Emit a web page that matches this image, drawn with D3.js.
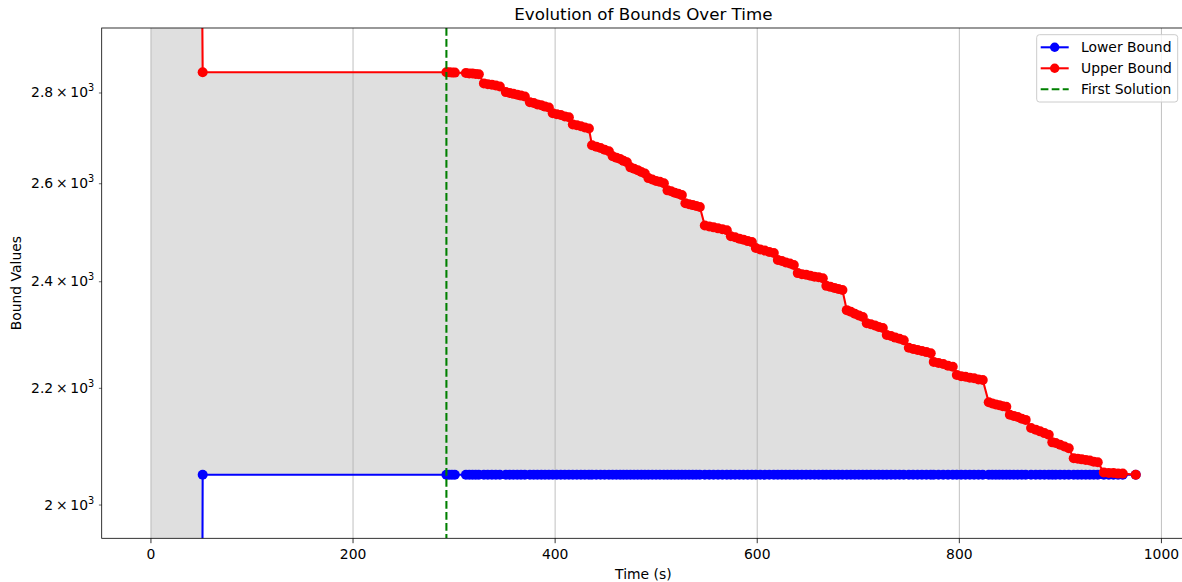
<!DOCTYPE html>
<html>
<head>
<meta charset="utf-8">
<script src="https://cdn.jsdelivr.net/npm/d3@7"></script>
<style>
  body { margin: 0; background: #fff; }
  svg { display: block; font-family: "DejaVu Sans", sans-serif; }
</style>
</head>
<body>
<div id="chart"></div>
<script>
// sample times (s)
const times = [
  0, 51.2,
  292.4, 295.1, 297.9, 300.7,
  311.7, 315.0, 318.2, 321.4, 324.5,
  329.5, 333.4, 337.4, 341.3, 345.3,
  351.2, 355.0, 358.7, 362.5, 366.2, 370.0,
  375.0, 378.8, 382.5, 386.3, 390.0, 393.8,
  397.6, 401.6, 405.6, 409.6, 413.6,
  417.5, 421.5, 425.5, 429.4, 433.4,
  436.5, 440.7, 444.9, 449.0, 453.2,
  456.9, 460.6, 464.3, 467.6, 471.0,
  474.5, 478.1, 481.7, 485.3, 488.8,
  492.3, 496.1, 499.9, 503.7, 507.6,
  511.2, 514.8, 518.4, 521.9, 525.4,
  528.9, 532.5, 536.1, 539.6, 543.2,
  548.1, 552.5, 556.8, 561.2, 565.5, 569.9,
  573.9, 578.1, 582.3, 586.4, 590.6, 594.7,
  598.6, 603.0, 607.5, 611.9, 616.4,
  620.4, 624.4, 628.3, 632.3, 636.2,
  640.1, 644.2, 648.4, 652.5, 656.7, 660.8, 664.9,
  668.4, 672.4, 676.4, 680.3, 684.3,
  688.6, 692.6, 696.6, 700.5, 704.5,
  708.4, 712.4, 716.4, 720.3, 724.3,
  728.2, 732.4, 736.6, 740.8, 745.0,
  750.0, 754.3, 758.7, 763.0, 767.4, 771.7,
  774.7, 779.4, 784.1, 788.8, 793.5,
  797.5, 801.8, 806.1, 810.4, 814.6, 818.9, 823.2,
  829.1, 832.6, 836.1, 839.5, 843.0, 846.5,
  850.0, 853.9, 857.8, 861.8, 865.7,
  871.0, 875.6, 879.9, 884.2, 888.5,
  892.0, 895.4, 899.7, 904.0, 908.3,
  913.2, 917.2, 921.1, 925.1, 929.1, 933.0, 937.0,
  943.0, 947.9, 952.5, 957.1, 961.7,
  974.6
];

// lower bound (first value is off the chart, below)
const lowerBound = [
  0, 2050,
  2050, 2050, 2050, 2050,
  2050, 2050, 2050, 2050, 2050,
  2050, 2050, 2050, 2050, 2050,
  2050, 2050, 2050, 2050, 2050, 2050,
  2050, 2050, 2050, 2050, 2050, 2050,
  2050, 2050, 2050, 2050, 2050,
  2050, 2050, 2050, 2050, 2050,
  2050, 2050, 2050, 2050, 2050,
  2050, 2050, 2050, 2050, 2050,
  2050, 2050, 2050, 2050, 2050,
  2050, 2050, 2050, 2050, 2050,
  2050, 2050, 2050, 2050, 2050,
  2050, 2050, 2050, 2050, 2050,
  2050, 2050, 2050, 2050, 2050, 2050,
  2050, 2050, 2050, 2050, 2050, 2050,
  2050, 2050, 2050, 2050, 2050,
  2050, 2050, 2050, 2050, 2050,
  2050, 2050, 2050, 2050, 2050, 2050, 2050,
  2050, 2050, 2050, 2050, 2050,
  2050, 2050, 2050, 2050, 2050,
  2050, 2050, 2050, 2050, 2050,
  2050, 2050, 2050, 2050, 2050,
  2050, 2050, 2050, 2050, 2050, 2050,
  2050, 2050, 2050, 2050, 2050,
  2050, 2050, 2050, 2050, 2050, 2050, 2050,
  2050, 2050, 2050, 2050, 2050, 2050,
  2050, 2050, 2050, 2050, 2050,
  2050, 2050, 2050, 2050, 2050,
  2050, 2050, 2050, 2050, 2050,
  2050, 2050, 2050, 2050, 2050, 2050, 2050,
  2050, 2050, 2050, 2050, 2050,
  2050
];

// upper bound (first value is off the chart, above)
const upperBound = [
  1e6, 2848,
  2848, 2848, 2847, 2847,
  2846, 2845, 2845, 2844, 2843,
  2822, 2820, 2819, 2817, 2815,
  2802, 2800, 2798, 2796, 2794, 2792,
  2779, 2777, 2774, 2772, 2769, 2767,
  2754, 2752, 2750, 2747, 2745,
  2729, 2727, 2725, 2722, 2720,
  2683, 2680, 2677, 2673, 2670,
  2659, 2656, 2653, 2649, 2646,
  2635, 2632, 2629, 2625, 2622,
  2612, 2609, 2606, 2604, 2601,
  2586, 2584, 2581, 2579, 2576,
  2559, 2557, 2555, 2553, 2551,
  2513, 2511, 2509, 2507, 2505, 2503,
  2491, 2489, 2486, 2484, 2481, 2479,
  2467, 2464, 2462, 2459, 2457,
  2443, 2441, 2438, 2436, 2433,
  2417, 2415, 2414, 2412, 2410, 2409, 2407,
  2392, 2390, 2388, 2386, 2384,
  2345, 2342, 2338, 2335, 2332,
  2320, 2318, 2316, 2313, 2311,
  2298, 2296, 2293, 2291, 2288,
  2274, 2272, 2270, 2268, 2266, 2264,
  2248, 2246, 2244, 2241, 2239,
  2224, 2222, 2221, 2219, 2218, 2216, 2215,
  2175, 2173, 2171, 2170, 2168, 2167,
  2153, 2151, 2149, 2146, 2144,
  2130, 2127, 2124, 2121, 2118,
  2105, 2104, 2101, 2098, 2095,
  2078, 2077, 2076, 2075, 2074, 2072, 2071,
  2054, 2053, 2053, 2052, 2052,
  2050
];

const firstSolutionTime = 292.4;
const xTicks = [0, 200, 400, 600, 800, 1000];
const yTicks = [2000, 2200, 2400, 2600, 2800];
const yTickMantissas = ["2", "2.2", "2.4", "2.6", "2.8"];
const yLimits = [1946.4, 2952.6];
const seriesNames = ["Lower Bound", "Upper Bound", "First Solution"];
const seriesColors = ["#0000ff", "#ff0000", "#008000"];

let width = 1182, height = 582;
let plot = {left: 101.7, top: 28, right: 1185, bottom: 538.3};

let data = times.map((t, i) => ({t: t, lo: lowerBound[i], up: upperBound[i]}));

let svg = d3.select("#chart")
  .append("svg")
    .attr("width", width)
    .attr("height", height);

// x axis with 5% margins like matplotlib
let ext = d3.extent(times);
let pad = (ext[1] - ext[0]) * 0.05;
let x = d3.scaleLinear()
  .domain([ext[0] - pad, ext[1] + pad])
  .range([plot.left, plot.right]);

let y = d3.scaleLog()
  .domain(yLimits)
  .range([plot.bottom, plot.top]);

// log scale cannot take 0, clip like matplotlib does
const yv = v => y(Math.max(v, 1e-3));

svg.append("defs").append("clipPath")
    .attr("id", "clip")
  .append("rect")
    .attr("x", plot.left)
    .attr("y", plot.top)
    .attr("width", plot.right - plot.left)
    .attr("height", plot.bottom - plot.top);

let inner = svg.append("g").attr("clip-path", "url(#clip)");

// shaded gap between the bounds
inner.append("path")
  .datum(data)
  .attr("fill", "gray")
  .attr("fill-opacity", 0.25)
  .attr("d", d3.area()
    .x(d => x(d.t))
    .y0(d => yv(d.lo))
    .y1(d => yv(d.up)));

// vertical grid
inner.selectAll(".grid")
  .data(xTicks)
  .join("line")
    .attr("class", "grid")
    .attr("x1", d => x(d)).attr("x2", d => x(d))
    .attr("y1", plot.top).attr("y2", plot.bottom)
    .attr("stroke", "#b0b0b0")
    .attr("stroke-width", 0.8);

// bound lines + markers
let series = [
  {key: "lo", color: seriesColors[0]},
  {key: "up", color: seriesColors[1]}
];
series.forEach(s => {
  inner.append("path")
    .datum(data)
    .attr("fill", "none")
    .attr("stroke", s.color)
    .attr("stroke-width", 2.08)
    .attr("stroke-linejoin", "round")
    .attr("d", d3.line()
      .x(d => x(d.t))
      .y(d => yv(d[s.key])));
  inner.append("g")
    .selectAll("circle")
    .data(data)
    .join("circle")
      .attr("cx", d => x(d.t))
      .attr("cy", d => yv(d[s.key]))
      .attr("r", 5)
      .attr("fill", s.color);
});

// first solution marker line
inner.append("line")
  .attr("x1", x(firstSolutionTime)).attr("x2", x(firstSolutionTime))
  .attr("y1", plot.top).attr("y2", plot.bottom)
  .attr("stroke", seriesColors[2])
  .attr("stroke-width", 2.08)
  .attr("stroke-dasharray", "7.7,3.3");

// frame
svg.append("rect")
  .attr("x", plot.left).attr("y", plot.top)
  .attr("width", plot.right - plot.left)
  .attr("height", plot.bottom - plot.top)
  .attr("fill", "none")
  .attr("stroke", "#000")
  .attr("stroke-width", 0.8);

// x ticks
let xt = svg.append("g").selectAll("g")
  .data(xTicks)
  .join("g")
    .attr("transform", d => "translate(" + x(d) + "," + plot.bottom + ")");
xt.append("line")
  .attr("y2", 4.9)
  .attr("stroke", "#000")
  .attr("stroke-width", 0.8);
xt.append("text")
  .attr("y", 20.3)
  .attr("text-anchor", "middle")
  .attr("font-size", "13.9px")
  .attr("fill", "#000")
  .text(d => d);

// y ticks (log minor ticks with mathtext style labels)
let yt = svg.append("g").selectAll("g")
  .data(yTicks)
  .join("g")
    .attr("transform", d => "translate(" + plot.left + "," + y(d) + ")");
yt.append("line")
  .attr("x2", -2.8)
  .attr("stroke", "#000")
  .attr("stroke-width", 0.6);
let ytText = yt.append("text")
  .attr("x", -7.5)
  .attr("y", 4.5)
  .attr("text-anchor", "end")
  .attr("font-size", "13.9px")
  .attr("fill", "#000");
ytText.append("tspan")
  .text((d, i) => yTickMantissas[i] + "\u2009\u00d7\u200910");
ytText.append("tspan")
  .attr("dy", -6)
  .attr("font-size", "9.7px")
  .text("3");

// labels and title
svg.append("text")
  .attr("x", (plot.left + plot.right) / 2)
  .attr("y", 20)
  .attr("text-anchor", "middle")
  .attr("font-size", "16.7px")
  .text("Evolution of Bounds Over Time");

svg.append("text")
  .attr("x", (plot.left + plot.right) / 2)
  .attr("y", 579)
  .attr("text-anchor", "middle")
  .attr("font-size", "13.9px")
  .text("Time (s)");

svg.append("text")
  .attr("transform", "translate(20.5," + ((plot.top + plot.bottom) / 2) + ") rotate(-90)")
  .attr("text-anchor", "middle")
  .attr("font-size", "13.9px")
  .text("Bound Values");

// legend
let legend = svg.append("g").attr("transform", "translate(1036.7,34.7)");
legend.append("rect")
  .attr("width", 141)
  .attr("height", 67.3)
  .attr("rx", 2.8)
  .attr("fill", "#fff")
  .attr("fill-opacity", 0.8)
  .attr("stroke", "#cccccc")
  .attr("stroke-width", 1);

let rows = legend.selectAll(".row")
  .data(seriesNames)
  .join("g")
    .attr("class", "row")
    .attr("transform", (d, i) => "translate(0," + (12.6 + i * 21) + ")");
rows.append("line")
  .attr("x1", 4).attr("x2", 32)
  .attr("stroke", (d, i) => seriesColors[i])
  .attr("stroke-width", 2.08)
  .attr("stroke-dasharray", (d, i) => i === 2 ? "7.7,3.3" : null);
rows.filter((d, i) => i < 2)
  .append("circle")
    .attr("cx", 18)
    .attr("r", 4.7)
    .attr("fill", (d, i) => seriesColors[i]);
rows.append("text")
  .attr("x", 44.3)
  .attr("y", 5)
  .attr("font-size", "13.9px")
  .attr("fill", "#000")
  .text(d => d);
</script>
</body>
</html>
